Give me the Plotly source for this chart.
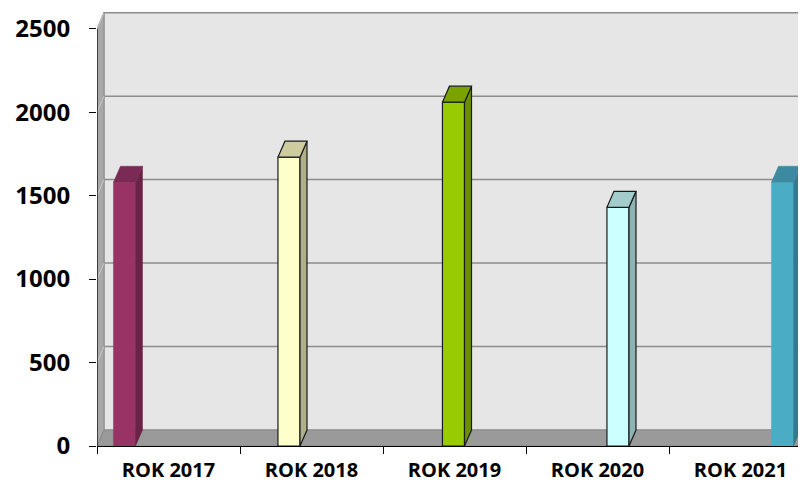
import plotly.graph_objects as go

# ---- data ----
categories = ["ROK 2017", "ROK 2018", "ROK 2019", "ROK 2020", "ROK 2021"]
values = [1580, 1730, 2060, 1430, 1580]
y_ticks = [0, 500, 1000, 1500, 2000, 2500]

# ---- style ----
front_colors = ["#993366", "#FFFFCC", "#99CC00", "#CCFFFF", "#4BACC6"]
top_colors = ["#7B2A55", "#CCCC9E", "#7BA300", "#A3CCCC", "#3C8A9F"]
side_colors = ["#6A2347", "#B0B088", "#6B8F00", "#8DB3B3", "#357A8C"]
outline = [None, "#1A1A1A", "#1A1A1A", "#1A1A1A", None]

# page body adds an 8px offset, so the figure is sized to the visible window
W, H = 798, 478
M_L, M_R, M_T, M_B = 89, 0, 4, 40
Y_MAX = 2600
X2_MIN, X2_MAX = -0.167, 4.143      # bar axis range
XL_MIN, XL_MAX = -0.5, 4.458        # label axis range
BAR_W = 0.134
DEPTH_X_PX, DEPTH_Y_PX = 7, 16

plot_w = W - M_L - M_R
plot_h = H - M_T - M_B
py = plot_h / Y_MAX                    # px per y unit
px2 = plot_w / (X2_MAX - X2_MIN)       # px per x2 unit
dxu = DEPTH_X_PX / px2
dyu = DEPTH_Y_PX / py

fig = go.Figure()

# ---- walls (shapes on x2/y) ----
shapes = []
# back wall
shapes.append(dict(type="rect", xref="x2", yref="y", x0=X2_MIN + dxu, x1=X2_MAX + 1,
                   y0=dyu, y1=Y_MAX + 10, fillcolor="#E6E6E6",
                   line=dict(color="#A6A6A6", width=1.5), layer="below"))
# left wall
shapes.append(dict(type="path", xref="x2", yref="y",
                   path=f"M {X2_MIN},{0} L {X2_MIN + dxu},{dyu} L {X2_MIN + dxu},{Y_MAX} "
                        f"L {X2_MIN},{y_ticks[-1]} Z",
                   fillcolor="#A8A8A8", line=dict(color="#8C8C8C", width=1), layer="below"))
# floor
shapes.append(dict(type="path", xref="x2", yref="y",
                   path=f"M {X2_MIN},{0} L {X2_MIN + dxu},{dyu} L {X2_MAX + 1},{dyu} "
                        f"L {X2_MAX + 1},{0} Z",
                   fillcolor="#9A9A9A", line=dict(color="#8A8A8A", width=1), layer="below"))
# gridlines on back & left wall
for v in y_ticks[1:]:
    shapes.append(dict(type="line", xref="x2", yref="y", x0=X2_MIN + dxu, x1=X2_MAX + 1,
                       y0=v + dyu, y1=v + dyu, line=dict(color="#8C8C8C", width=1.5),
                       layer="below"))
    shapes.append(dict(type="line", xref="x2", yref="y", x0=X2_MIN, x1=X2_MIN + dxu,
                       y0=v, y1=v + dyu, line=dict(color="#C8C8C8", width=1),
                       layer="below"))
# y axis line
shapes.append(dict(type="line", xref="x2", yref="y", x0=X2_MIN, x1=X2_MIN,
                   y0=0, y1=y_ticks[-1], line=dict(color="#000000", width=1.2)))

# ---- bars ----
for i, v in enumerate(values):
    xl, xr = i - BAR_W / 2, i + BAR_W / 2
    lc = outline[i] if outline[i] else front_colors[i]
    lw = 1.2 if outline[i] else 0.5
    # front
    fig.add_trace(go.Scatter(x=[xl, xr, xr, xl, xl], y=[0, 0, v, v, 0], xaxis="x2",
                             fill="toself", fillcolor=front_colors[i], mode="lines",
                             line=dict(color=lc, width=lw), hoverinfo="skip", showlegend=False))
    # side
    fig.add_trace(go.Scatter(x=[xr, xr + dxu, xr + dxu, xr, xr],
                             y=[0, dyu, v + dyu, v, 0], xaxis="x2",
                             fill="toself", fillcolor=side_colors[i], mode="lines",
                             line=dict(color=lc if outline[i] else side_colors[i], width=lw),
                             hoverinfo="skip", showlegend=False))
    # top
    fig.add_trace(go.Scatter(x=[xl, xr, xr + dxu, xl + dxu, xl],
                             y=[v, v, v + dyu, v + dyu, v], xaxis="x2",
                             fill="toself", fillcolor=top_colors[i], mode="lines",
                             line=dict(color=lc if outline[i] else top_colors[i], width=lw),
                             hoverinfo="skip", showlegend=False))

# invisible trace to build the category label axis
fig.add_trace(go.Scatter(x=categories, y=[None] * len(categories), xaxis="x",
                         mode="markers", marker=dict(opacity=0), hoverinfo="skip",
                         showlegend=False))

fig.update_layout(
    width=W, height=H,
    margin=dict(l=M_L, r=M_R, t=M_T, b=M_B, pad=0, autoexpand=False),
    paper_bgcolor="white", plot_bgcolor="white",
    shapes=shapes,
    xaxis=dict(type="category", range=[XL_MIN, XL_MAX], showgrid=False, zeroline=False,
               showline=True, linecolor="#000000", linewidth=1.2, automargin=False,
               ticks="outside", tickson="boundaries", ticklen=7, tickcolor="#000000",
               tickfont=dict(family="Open Sans", size=20, color="#000000", weight="bold"),
               ticklabelstandoff=6),
    xaxis2=dict(range=[X2_MIN, X2_MAX], overlaying="x", visible=False, anchor="y"),
    yaxis=dict(range=[0, Y_MAX], tickvals=y_ticks, showgrid=False, zeroline=False,
               showline=False, ticks="outside", ticklen=7, tickcolor="#000000",
               automargin=False,
               tickfont=dict(family="Open Sans", size=24, color="#000000", weight="bold"),
               ticklabelstandoff=14),
)

fig.write_html("out.html")
